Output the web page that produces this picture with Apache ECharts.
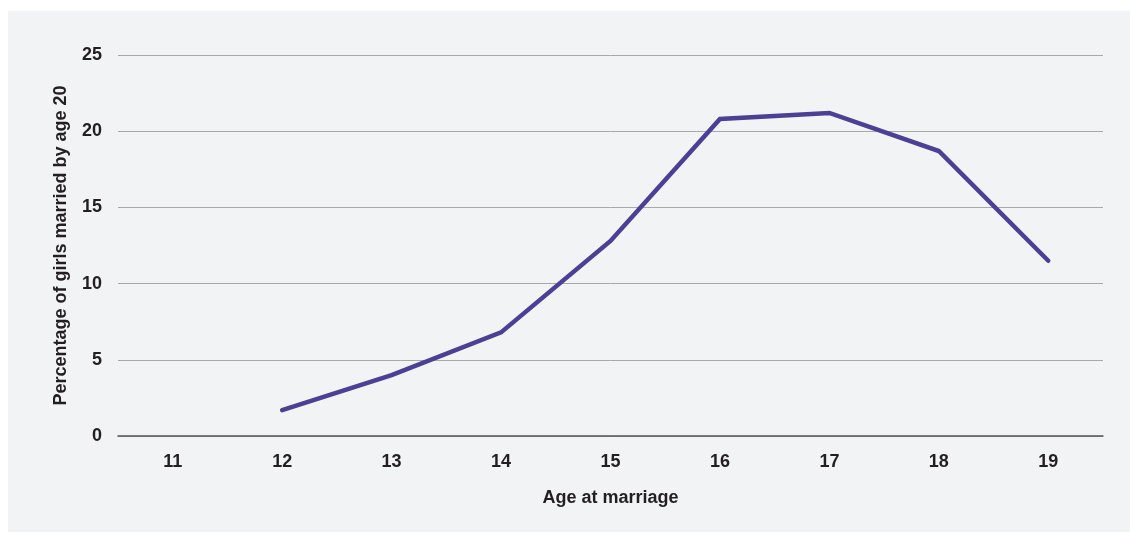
<!DOCTYPE html>
<html><head><meta charset="utf-8">
<script src="https://cdn.jsdelivr.net/npm/echarts@6/dist/echarts.min.js"></script>
<style>html,body{margin:0;padding:0;background:#fff;}#c{width:1130px;height:533px;}</style>
</head><body><div id="c"></div>
<script>
const categories = ['11','12','13','14','15','16','17','18','19'];
const values = [null, 1.7, 4.0, 6.8, 12.8, 20.8, 21.2, 18.7, 11.5];
const yTicks = [0, 5, 10, 15, 20, 25];
const FONT = '"Liberation Sans", Arial, sans-serif';
const chart = echarts.init(document.getElementById('c'));
chart.setOption({
  animation: false,
  backgroundColor: '#ffffff',
  graphic: [{type:'rect', left: 8, top: 11, shape:{width:1122, height:521}, style:{fill:'#f2f3f5'}, z:-10}],
  grid: {left: 118, right: 27, top: 55, bottom: 97},
  xAxis: {
    type: 'category', data: categories, boundaryGap: true,
    name: 'Age at marriage', nameLocation: 'middle', nameGap: 53,
    nameTextStyle: {fontFamily: FONT, fontWeight: 'bold', fontSize: 18, color: '#231f20'},
    axisLine: {show: true, lineStyle: {color: '#555', width: 1.5}},
    axisTick: {show: false},
    axisLabel: {fontFamily: FONT, fontWeight: 'bold', fontSize: 18, color: '#231f20', margin: 17}
  },
  yAxis: {
    type: 'value', min: yTicks[0], max: yTicks[yTicks.length-1], interval: 5,
    name: 'Percentage of girls married by age 20', nameLocation: 'middle', nameGap: 48,
    nameTextStyle: {fontFamily: FONT, fontWeight: 'bold', fontSize: 18, color: '#231f20'},
    axisLine: {show: false}, axisTick: {show: false},
    axisLabel: {fontFamily: FONT, fontWeight: 'bold', fontSize: 18, color: '#231f20', margin: 16},
    splitLine: {lineStyle: {color: '#a8a8a8', width: 1}}
  },
  series: [{
    type: 'line', data: values, connectNulls: false,
    showSymbol: false, symbol: 'none',
    lineStyle: {color: '#4b3f96', width: 4.5, cap: 'round', join: 'miter'}
  }]
});
</script></body></html>
